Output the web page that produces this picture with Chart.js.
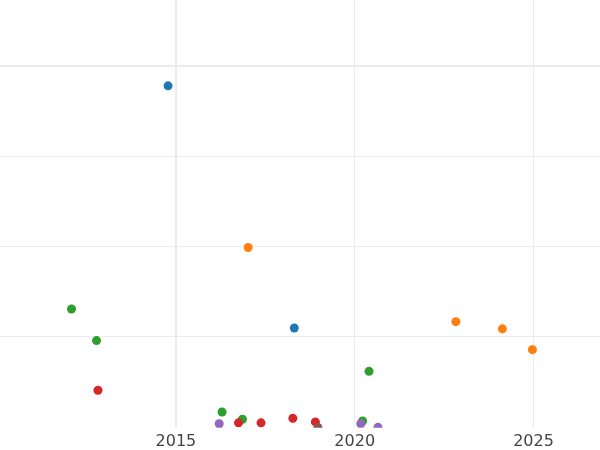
<!DOCTYPE html>
<html>
<head>
<meta charset="utf-8">
<script src="https://cdn.jsdelivr.net/npm/chart.js@4/dist/chart.umd.min.js"></script>
<style>
  html, body { margin: 0; padding: 0; background: #fff; }
  #wrap { width: 600px; height: 450px; }
</style>
</head>
<body>
<div id="wrap"><canvas id="scatter" width="600" height="450"></canvas></div>
<script>
// series (x = year, y = value)
const blueX = [2014.78, 2018.31];
const blueY = [3.78, 1.10];
const orangeX = [2017.02, 2022.83, 2024.13, 2024.97];
const orangeY = [1.99, 1.17, 1.09, 0.86];
const greenX = [2012.08, 2012.78, 2020.40, 2016.29, 2016.86, 2020.22];
const greenY = [1.31, 0.96, 0.62, 0.17, 0.09, 0.07];
const redX = [2012.82, 2016.75, 2017.38, 2018.27, 2018.90];
const redY = [0.41, 0.05, 0.05, 0.10, 0.06];
const purpleX = [2016.21, 2020.17, 2020.65];
const purpleY = [0.04, 0.04, 0.0];
const brownX = [2018.97];
const brownY = [0.0];

const xTicks = [2015, 2020, 2025];
const yTicks = [0, 1, 2, 3, 4];

const series = [
  { xs: blueX, ys: blueY, color: '#1f77b4' },
  { xs: orangeX, ys: orangeY, color: '#ff7f0e' },
  { xs: greenX, ys: greenY, color: '#2ca02c' },
  { xs: redX, ys: redY, color: '#d62728' },
  { xs: purpleX, ys: purpleY, color: '#9467bd' },
  { xs: brownX, ys: brownY, color: '#8c564b' },
];

const datasets = series.map((s, i) => ({
  data: s.xs.map((x, j) => ({ x: x, y: s.ys[j] })),
  backgroundColor: s.color,
  borderColor: s.color,
  pointRadius: 4.5,
  borderWidth: 0,
  order: series.length - i, // later series drawn on top
}));

const ctx = document.getElementById('scatter').getContext('2d');
new Chart(ctx, {
  type: 'scatter',
  data: { datasets },
  options: {
    responsive: false,
    animation: false,
    layout: { padding: { left: 0, right: 0, top: 0, bottom: -5 }, autoPadding: false },
    plugins: { legend: { display: false }, tooltip: { enabled: false } },
    scales: {
      x: {
        type: 'linear',
        min: 2010.08,
        max: 2026.86,
        afterBuildTicks: (scale) => { scale.ticks = xTicks.map(v => ({ value: v })); },
        border: { display: false },
        grid: {
          color: '#ebebeb',
          lineWidth: (c) => (c.tick && c.tick.value === 2015 ? 2 : 1),
          drawTicks: false,
          tickLength: 0,
        },
        ticks: {
          padding: 4,
          color: '#444444',
          font: { family: 'DejaVu Sans', size: 16 },
          callback: (v) => String(v),
        },
      },
      y: {
        type: 'linear',
        min: -0.005,
        max: 4.73,
        afterBuildTicks: (scale) => { scale.ticks = yTicks.map(v => ({ value: v })); },
        border: { display: false },
        grid: {
          color: (c) => (c.tick && c.tick.value === 0 ? 'rgba(0,0,0,0)' : '#ebebeb'),
          lineWidth: (c) => (c.tick && c.tick.value === 4 ? 2 : 1),
          drawTicks: false,
          tickLength: 0,
        },
        ticks: { display: false },
      },
    },
  },
});
</script>
</body>
</html>
